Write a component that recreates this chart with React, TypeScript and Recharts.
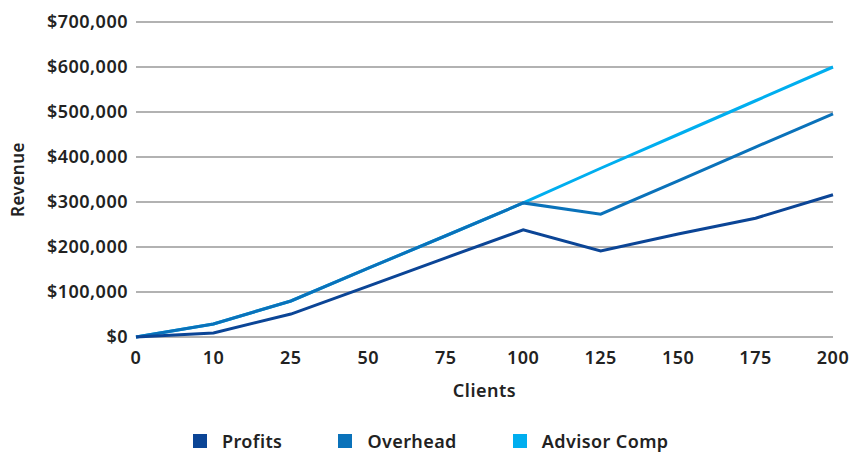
import { LineChart, Line, XAxis, YAxis, CartesianGrid, Legend } from "recharts";

const clients = ["0", "10", "25", "50", "75", "100", "125", "150", "175", "200"];
const profits = [0, 9000, 51000, 113000, 176000, 238000, 191000, 229000, 264000, 316000];
const overhead = [0, 29000, 80000, 153000, 225000, 298000, 273000, 347000, 422000, 496000];
const advisorComp = [0, 29000, 80000, 153000, 225000, 298000, 375000, 450000, 525000, 600000];
const yTicks = [0, 100000, 200000, 300000, 400000, 500000, 600000, 700000];

const series = [
  { key: "profits", name: "Profits", color: "#0b4596" },
  { key: "overhead", name: "Overhead", color: "#0a72ba" },
  { key: "advisorComp", name: "Advisor Comp", color: "#00aeef" },
];

const data = clients.map((c, i) => ({
  clients: c,
  profits: profits[i],
  overhead: overhead[i],
  advisorComp: advisorComp[i],
}));

const FONT = "'Noto Sans', sans-serif";
const fmt = (v: number) => "$" + v.toLocaleString("en-US");
const tickStyle = { fill: "#222", fontSize: 18, fontWeight: 600, fontFamily: FONT, letterSpacing: 0.5 };

function LegendContent() {
  return (
    <div style={{ display: "flex", justifyContent: "flex-start", paddingLeft: 183, paddingTop: 22, fontFamily: FONT }}>
      {series.map((s) => (
        <div key={s.key} style={{ display: "flex", alignItems: "center", marginRight: 56 }}>
          <span style={{ width: 14, height: 14, background: s.color, display: "inline-block", marginRight: 15 }} />
          <span style={{ fontSize: 18, fontWeight: 600, color: "#222", letterSpacing: 0.4 }}>{s.name}</span>
        </div>
      ))}
    </div>
  );
}

export default function App() {
  return (
    <div style={{ position: "absolute", left: 0, top: 0 }}>
      <LineChart width={853} height={455} data={data} margin={{ top: 22, right: 20, left: 10, bottom: 0 }}>
        <CartesianGrid vertical={false} stroke="#666" strokeWidth={1.2} />
        <XAxis
          dataKey="clients"
          axisLine={false}
          tickLine={false}
          tickMargin={8}
          height={70}
          tick={tickStyle}
          label={{ value: "Clients", position: "insideBottom", offset: 10, ...tickStyle }}
        />
        <YAxis
          domain={[0, 700000]}
          ticks={yTicks}
          tickFormatter={fmt}
          axisLine={false}
          tickLine={false}
          width={126}
          tickMargin={2}
          tick={tickStyle}
          label={{ value: "Revenue", angle: -90, position: "insideLeft", offset: 0, dx: 8, ...tickStyle, fontSize: 17, style: { textAnchor: "middle" } }}
        />
        <Legend verticalAlign="bottom" height={48} content={<LegendContent />} />
        <Line dataKey="advisorComp" name="Advisor Comp" stroke="#00aeef" strokeWidth={3} dot={false} isAnimationActive={false} />
        <Line dataKey="overhead" name="Overhead" stroke="#0a72ba" strokeWidth={3} dot={false} isAnimationActive={false} />
        <Line dataKey="profits" name="Profits" stroke="#0b4596" strokeWidth={3} dot={false} isAnimationActive={false} />
      </LineChart>
    </div>
  );
}
